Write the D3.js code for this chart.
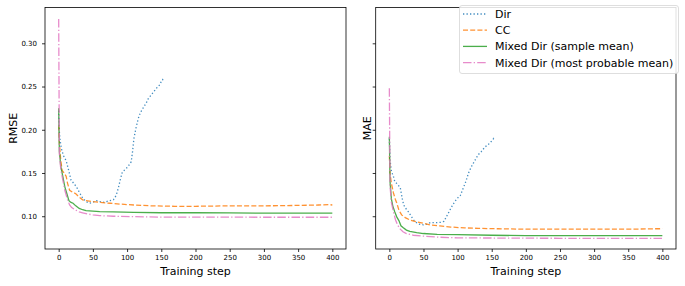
<!DOCTYPE html>
<html>
<head>
<meta charset="utf-8">
<script src="https://cdn.jsdelivr.net/npm/d3@7"></script>
<style>
  body { margin: 0; background: #fff; }
  svg { font-family: "DejaVu Sans", sans-serif; }
</style>
</head>
<body>
<svg id="chart" width="685" height="286"></svg>
<script>
// [training step, value]
var rmseDir = [[0,0.222],[1,0.198],[2,0.188],[4,0.178],[7,0.170],[11,0.164],[14,0.155],[18,0.142],[22,0.138],[26,0.134],[30,0.128],[35,0.121],[40,0.117],[45,0.115],[50,0.116],[55,0.118],[60,0.117],[65,0.116],[70,0.117],[75,0.118],[80,0.119],[84,0.124],[87,0.132],[90,0.142],[93,0.151],[97,0.154],[101,0.157],[106,0.163],[108,0.175],[110,0.190],[113,0.202],[116,0.212],[118,0.217],[121,0.222],[124,0.226],[128,0.231],[131,0.236],[135,0.240],[138,0.243],[142,0.247],[145,0.250],[148,0.252],[150,0.256],[152,0.258],[154,0.255]];
var rmseCC = [[0,0.205],[1,0.185],[3,0.165],[5,0.153],[8,0.150],[11,0.146],[13,0.138],[16,0.130],[20,0.128],[25,0.126],[30,0.122],[35,0.119],[40,0.118],[50,0.117],[60,0.116],[75,0.115],[90,0.114],[110,0.113],[135,0.112],[170,0.1115],[200,0.1115],[250,0.112],[300,0.112],[350,0.1125],[380,0.113],[395,0.1135],[400,0.113]];
var rmseMixSample = [[0,0.225],[1,0.175],[3,0.158],[6,0.146],[9,0.134],[12,0.126],[15,0.118],[18,0.116],[21,0.115],[25,0.112],[30,0.109],[35,0.1075],[40,0.1065],[50,0.106],[60,0.1053],[80,0.105],[110,0.1045],[150,0.104],[200,0.104],[250,0.1038],[300,0.1035],[350,0.1035],[400,0.1035]];
var rmseMixProb = [[0,0.328],[1,0.172],[3,0.155],[6,0.142],[9,0.130],[13,0.119],[16,0.113],[19,0.110],[25,0.107],[30,0.105],[35,0.104],[42,0.1027],[50,0.1015],[60,0.1007],[80,0.100],[110,0.0995],[150,0.099],[200,0.099],[250,0.099],[300,0.0988],[350,0.0988],[400,0.0988]];

var maeDir = [[0,0.19],[1,0.165],[3,0.152],[6,0.146],[8,0.140],[12,0.137],[16,0.133],[19,0.120],[21,0.113],[25,0.108],[28,0.105],[32,0.100],[37,0.094],[43,0.091],[50,0.090],[55,0.091],[60,0.0925],[65,0.0925],[70,0.0927],[75,0.093],[80,0.094],[84,0.100],[88,0.106],[92,0.112],[96,0.117],[100,0.121],[104,0.124],[108,0.132],[112,0.140],[116,0.150],[120,0.157],[125,0.164],[130,0.171],[135,0.175],[140,0.180],[145,0.183],[150,0.187],[153,0.190],[155,0.189]];
var maeCC = [[0,0.17],[1,0.15],[3,0.138],[6,0.127],[9,0.119],[11,0.115],[14,0.107],[18,0.1015],[24,0.098],[30,0.0957],[40,0.0935],[50,0.0919],[60,0.090],[74,0.0888],[90,0.0875],[110,0.0865],[130,0.086],[160,0.0855],[200,0.085],[250,0.085],[300,0.085],[350,0.085],[390,0.0855],[400,0.0855]];
var maeMixSample = [[0,0.192],[1,0.14],[3,0.120],[5,0.112],[8,0.105],[11,0.099],[14,0.095],[17,0.089],[20,0.087],[25,0.084],[30,0.0825],[40,0.081],[50,0.080],[70,0.079],[100,0.0787],[150,0.078],[200,0.0775],[250,0.0775],[300,0.0775],[350,0.0775],[400,0.0775]];
var maeMixProb = [[0,0.248],[1,0.135],[3,0.116],[6,0.105],[9,0.096],[12,0.090],[16,0.085],[20,0.082],[25,0.080],[35,0.078],[50,0.077],[74,0.0757],[100,0.075],[150,0.0748],[200,0.0746],[250,0.0745],[300,0.0745],[350,0.0745],[400,0.0745]];

var seriesNames = ['Dir', 'CC', 'Mixed Dir (sample mean)', 'Mixed Dir (most probable mean)'];
var xTicks = [0, 50, 100, 150, 200, 250, 300, 350, 400];
var yTicks = [0.10, 0.15, 0.20, 0.25, 0.30];

var styles = [
    {color: '#1f77b4', dash: '1.3,2.2'},
    {color: '#ff7f0e', dash: '5,2.2'},
    {color: '#2ca02c', dash: null},
    {color: '#e377c2', dash: '8.5,2.2,1.3,2.2'}
];

var svg = d3.select('#chart');

var top0 = 7.5, bottom0 = 249;

var y = d3.scaleLinear()
          .domain([0.0621, 0.3414])
          .range([bottom0, top0]);

function drawPanel(x0, x1, data, label, labelX, showLabels){
    let x = d3.scaleLinear().domain([-20, 420]).range([x0, x1]);
    let G = svg.append('g');

    let line = d3.line()
                 .x(d => x(d[0]))
                 .y(d => y(d[1]));

    G.append('defs').append('clipPath')
        .attr('id', 'clip_' + label)
        .append('rect')
        .attr('x', x0).attr('y', top0)
        .attr('width', x1 - x0).attr('height', bottom0 - top0);

    data.forEach(function(d, i){
        G.append('path')
         .attr('d', line(d))
         .attr('clip-path', 'url(#clip_' + label + ')')
         .attr('fill', 'none')
         .attr('stroke', styles[i].color)
         .attr('stroke-opacity', 0.85)
         .attr('stroke-width', 1.3)
         .attr('stroke-dasharray', styles[i].dash);
    });

    let xAxis = G.append('g')
                 .attr('transform', 'translate(0,' + bottom0 + ')')
                 .call(d3.axisBottom(x).tickValues(xTicks).tickSize(3).tickPadding(3.5));
    let yAxis = G.append('g')
                 .attr('transform', 'translate(' + x0 + ',0)')
                 .call(d3.axisLeft(y).tickValues(yTicks).tickSize(3).tickPadding(5)
                         .tickFormat(showLabels ? d3.format('.2f') : ''));
    [xAxis, yAxis].forEach(function(a){
        a.select('.domain').remove();
        a.selectAll('.tick line').attr('stroke', '#000').attr('stroke-width', 0.8);
        a.selectAll('.tick text').attr('fill', '#000').attr('font-size', '7px')
         .attr('font-family', '"DejaVu Sans", sans-serif');
    });

    G.append('rect')
     .attr('x', x0).attr('y', top0)
     .attr('width', x1 - x0).attr('height', bottom0 - top0)
     .attr('fill', 'none')
     .attr('stroke', '#000')
     .attr('stroke-width', 0.8);

    G.append('text')
     .attr('x', (x0 + x1) / 2)
     .attr('y', 274.5)
     .attr('text-anchor', 'middle')
     .attr('font-size', '11px')
     .text('Training step');

    G.append('text')
     .attr('transform', 'translate(' + labelX + ',' + ((top0 + bottom0) / 2) + ') rotate(-90)')
     .attr('text-anchor', 'middle')
     .attr('font-size', '11px')
     .text(label);
}

drawPanel(45, 346, [rmseDir, rmseCC, rmseMixSample, rmseMixProb], 'RMSE', 17, true);
drawPanel(375.7, 676, [maeDir, maeCC, maeMixSample, maeMixProb], 'MAE', 370.5, false);

// legend
var legend = svg.append('g');
legend.append('rect')
      .attr('x', 459.5).attr('y', 5.5)
      .attr('width', 219).attr('height', 68)
      .attr('rx', 2.5)
      .attr('fill', '#fff').attr('fill-opacity', 0.85)
      .attr('stroke', '#d6d6d6').attr('stroke-width', 0.8);

seriesNames.forEach(function(name, i){
    let ly = 14 + i * 16.2;
    legend.append('line')
          .attr('x1', 463).attr('x2', 487)
          .attr('y1', ly).attr('y2', ly)
          .attr('stroke', styles[i].color)
          .attr('stroke-opacity', 0.85)
          .attr('stroke-width', 1.3)
          .attr('stroke-dasharray', styles[i].dash);
    legend.append('text')
          .attr('x', 495).attr('y', ly + 4)
          .attr('font-size', '11px')
          .text(name);
});
</script>
</body>
</html>
